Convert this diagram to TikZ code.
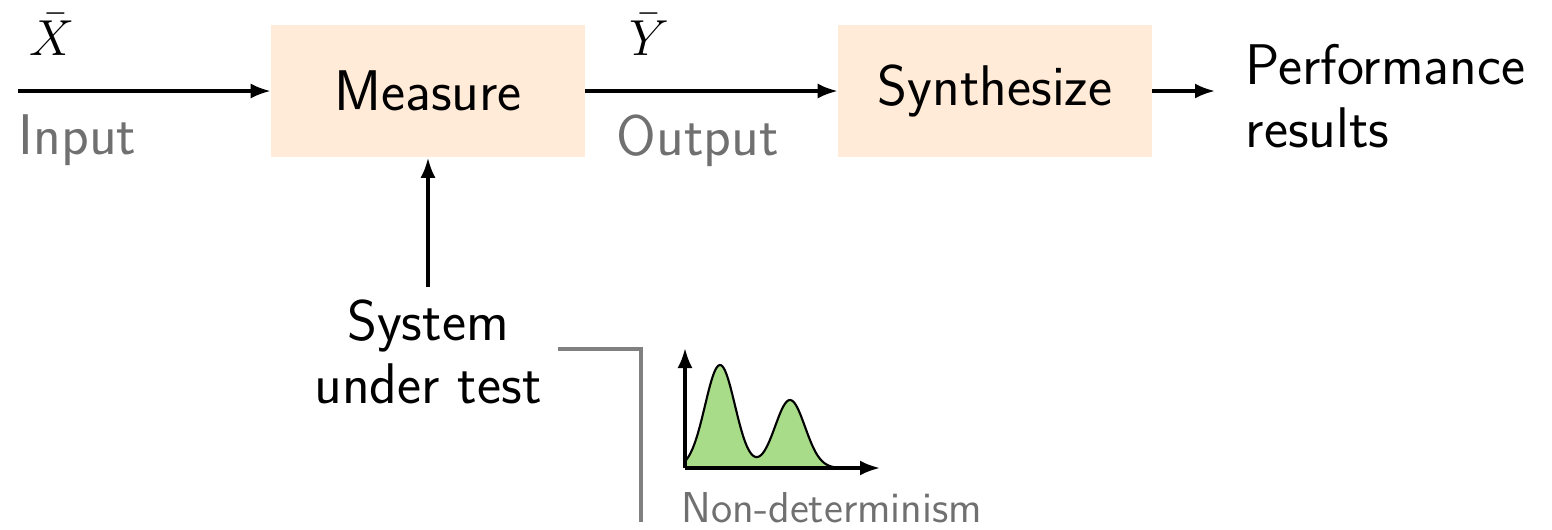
\documentclass[tikz,border=0pt]{standalone}
\usetikzlibrary{arrows.meta,positioning}
\definecolor{boxfill}{HTML}{FFEBD7}
\definecolor{labelgray}{HTML}{707070}
\definecolor{linegray}{HTML}{808080}
\definecolor{curvefill}{HTML}{A8DC88}
\newcommand\bigfont{\sffamily\fontsize{16.3}{18}\selectfont}
\newcommand\smallgray{\sffamily\fontsize{12.3}{14}\selectfont}
\newcommand\mathfont{\fontsize{14}{16}\selectfont}
\begin{document}
\begin{tikzpicture}[x=0.01cm,y=-0.01cm,
  block/.style={fill=boxfill, minimum width=3.13cm, minimum height=1.32cm, font=\bigfont},
  flow/.style={-{Latex[length=2mm,width=1.5mm]}, line width=0.9pt},
  note/.style={text=labelgray, font=\bigfont, inner sep=0pt}]
  \useasboundingbox (0,0) rectangle (1552,529);

  \node[block] (measure) at (428,91) {Measure};
  \node[block] (synth) at (995,91) {Synthesize};
  \coordinate (in) at (18,91);
  \coordinate (res) at (1215,91);

  \draw[flow] (in) -- (measure.west);
  \draw[flow] (measure.east) -- (synth.west);
  \draw[flow] (synth.east) -- (res);

  \node[font=\mathfont, anchor=base, inner sep=0pt] (xbar) at (52,55) {$\bar{X}$};
  \node[font=\mathfont, anchor=base, inner sep=0pt] (ybar) at (649,55) {$\bar{Y}$};
  \node[note, anchor=base west] (input) at (18,154) {Input};
  \node[note, anchor=base west] (output) at (616,155) {Output};
  \node[font=\bigfont, anchor=west, align=left, inner sep=0pt] (perf) at (1245,96) {Performance\\results};

  \node[font=\bigfont, align=center] (sut) at (428,352) {System\\under test};
  \draw[flow] (sut.north) -- (measure.south);

  % non-determinism
  \draw[linegray, line width=0.9pt] (558,349) -- (641,349) -- (641,522);
  \fill[curvefill] (685,468) -- plot[domain=685:850, samples=120]
    (\x, {468 - 103*exp(-0.5*((\x-720)/15)^2) - 68*exp(-0.5*((\x-790)/15)^2)}) -- (850,468) -- cycle;
  \draw[line width=0.6pt] plot[domain=685:850, samples=120]
    (\x, {468 - 103*exp(-0.5*((\x-720)/15)^2) - 68*exp(-0.5*((\x-790)/15)^2)});
  \coordinate (origin) at (685,468);
  \coordinate (ytop) at (685,348);
  \coordinate (xend) at (880,468);
  \draw[flow] (origin) -- (ytop);
  \draw[flow] (origin) -- (xend);
  \node[text=labelgray, font=\smallgray, anchor=base west, inner sep=0pt] (nondet) at (681,522) {Non-determinism};
\end{tikzpicture}
\end{document}
